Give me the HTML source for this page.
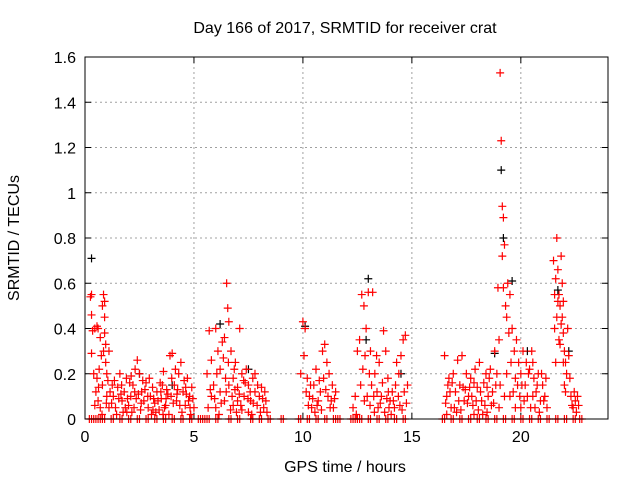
<!DOCTYPE html>
<html><head><meta charset="utf-8"><style>
body{margin:0;background:#fff;}
svg{display:block;font-family:"Liberation Sans",sans-serif;}
</style></head><body>
<svg id="chart" width="640" height="480">
<text x="345" y="33" text-anchor="middle" font-size="16">Day 166 of 2017, SRMTID for receiver crat</text>
<text x="345" y="472" text-anchor="middle" font-size="16">GPS time / hours</text>
<text transform="translate(19,238) rotate(-90)" text-anchor="middle" font-size="16">SRMTID / TECUs</text>
<g id="grid"></g>
<g id="ticks"></g>
<g id="blackUnder"></g>
<g id="red"></g>
<g id="black"></g>
<rect x="85" y="57" width="523" height="362" fill="none" stroke="#000" stroke-width="1"/>
</svg>
<script>
const xTicks=[0,5,10,15,20];
const yTicks=[0,0.2,0.4,0.6,0.8,1,1.2,1.4,1.6];
const yTickLabels=["0","0.2","0.4","0.6","0.8","1","1.2","1.4","1.6"];
const redPoints=[[0.25,0.54],[0.3,0.55],[0.3,0.46],[0.35,0.39],[0.3,0.29],[0.4,0.2],[0.45,0.4],[0.55,0.41],[0.6,0.4],[0.7,0.36],[0.75,0.28],[0.8,0.5],[0.85,0.55],[0.9,0.52],[0.9,0.45],[0.95,0.33],[0.95,0.25],[1.0,0.2],[1.05,0.17],[1.1,0.3],[0.5,0.12],[0.6,0.08],[0.7,0.05],[0.8,0.15],[1.0,0.1],[1.1,0.05],[0.55,0.18],[0.65,0.22],[0.85,0.3],[0.9,0.38],
[1.3,0.1],[1.4,0.05],[1.5,0.14],[1.6,0.2],[1.7,0.08],[1.8,0.12],[1.9,0.18],[2.0,0.06],[2.1,0.1],[2.2,0.15],[2.3,0.22],[2.4,0.26],[2.5,0.2],[2.6,0.12],[2.7,0.08],[2.8,0.16],[2.9,0.05],[3.0,0.1],[3.1,0.14],[3.2,0.07],[3.3,0.12],[3.4,0.04],[3.5,0.09],[3.6,0.21],[3.7,0.06],[3.8,0.11],[3.9,0.28],[4.0,0.29],[4.1,0.15],[4.2,0.08],[4.3,0.2],[4.4,0.25],[4.5,0.12],[4.6,0.06],[4.7,0.18],[4.8,0.1],[4.9,0.14],[5.0,0.05],[1.45,0.02],[1.75,0.03],[2.05,0.16],[2.55,0.04],[2.95,0.18],[3.25,0.03],[3.55,0.15],[3.85,0.02],[4.15,0.22],[4.45,0.03],[4.75,0.08],[2.35,0.09],[3.15,0.09],[4.05,0.07],[1.55,0.09],[2.65,0.17],[3.75,0.13],[4.55,0.17],[1.25,0.15],[1.85,0.05],[2.45,0.11],[3.05,0.02],[3.65,0.05],[4.25,0.13],[4.85,0.02],[2.15,0.03],[3.45,0.16],
[5.6,0.2],[5.7,0.39],[5.8,0.26],[5.9,0.15],[6.0,0.4],[6.1,0.3],[6.2,0.22],[6.3,0.34],[6.4,0.36],[6.5,0.6],[6.55,0.49],[6.6,0.43],[6.7,0.3],[6.8,0.18],[6.9,0.25],[7.0,0.14],[7.1,0.4],[7.2,0.2],[7.3,0.1],[7.4,0.22],[7.5,0.15],[7.6,0.08],[7.7,0.18],[7.8,0.12],[7.9,0.06],[8.0,0.1],[8.1,0.14],[8.2,0.05],[8.3,0.08],[5.8,0.1],[6.0,0.05],[6.2,0.12],[6.4,0.08],[6.6,0.15],[6.8,0.06],[7.0,0.08],[7.2,0.04],[7.5,0.03],[7.8,0.2],[6.35,0.27],[6.75,0.1],[6.45,0.18],[6.95,0.03],[7.35,0.16],[7.65,0.02],[8.05,0.03],[6.15,0.02],
[9.9,0.2],[10.0,0.43],[10.1,0.4],[10.2,0.18],[10.3,0.1],[10.4,0.05],[10.5,0.15],[10.6,0.22],[10.7,0.08],[10.8,0.12],[10.9,0.3],[11.0,0.33],[11.1,0.25],[11.2,0.2],[11.3,0.08],[11.4,0.05],[11.5,0.12],[10.05,0.28],[10.25,0.06],[10.55,0.03],[10.95,0.18],[11.15,0.1],
[12.3,0.05],[12.4,0.1],[12.5,0.3],[12.6,0.35],[12.7,0.55],[12.8,0.5],[12.9,0.4],[13.0,0.56],[13.1,0.3],[13.2,0.56],[13.3,0.2],[13.4,0.12],[13.5,0.25],[13.6,0.1],[13.7,0.39],[13.8,0.3],[13.9,0.18],[14.0,0.08],[14.1,0.12],[14.2,0.05],[14.3,0.25],[14.4,0.2],[14.5,0.28],[14.6,0.35],[14.7,0.37],[14.8,0.15],[12.75,0.22],[12.95,0.1],[13.15,0.15],[13.45,0.05],[13.75,0.03],[14.05,0.02],[14.45,0.06],[13.05,0.2],[12.85,0.28],
[16.5,0.28],[16.6,0.1],[16.7,0.18],[16.8,0.05],[16.9,0.2],[17.0,0.12],[17.1,0.26],[17.2,0.15],[17.3,0.28],[17.4,0.08],[17.5,0.2],[17.6,0.1],[17.7,0.18],[17.8,0.06],[17.9,0.22],[18.0,0.14],[18.1,0.25],[18.2,0.08],[18.3,0.16],[18.4,0.2],[18.5,0.1],[18.6,0.22],[18.7,0.12],[18.8,0.3],[18.9,0.2],[19.0,0.35],[19.05,1.53],[19.1,1.23],[19.15,0.94],[19.2,0.89],[19.15,0.72],[19.25,0.77],[19.2,0.58],[19.3,0.5],[19.35,0.45],[19.4,0.6],[19.45,0.38],[19.5,0.55],[19.6,0.4],[19.7,0.3],[19.8,0.35],[19.9,0.25],[20.0,0.2],[20.1,0.3],[20.2,0.15],[20.3,0.1],[20.4,0.22],[20.5,0.3],[20.6,0.18],[20.7,0.12],[20.8,0.2],[20.9,0.08],[21.0,0.15],[21.1,0.1],[21.2,0.05],[18.95,0.58],[19.0,0.05],[19.5,0.1],[20.0,0.05],[17.05,0.03],[18.05,0.04],[19.85,0.15],[20.45,0.05],[16.65,0.15],[17.45,0.13],[18.25,0.02],[18.65,0.06],[19.65,0.12],[20.25,0.25],[20.85,0.03],
[21.5,0.7],[21.6,0.62],[21.65,0.8],[21.7,0.66],[21.75,0.55],[21.8,0.5],[21.85,0.72],[21.9,0.45],[21.95,0.38],[22.0,0.3],[22.05,0.25],[22.1,0.2],[22.2,0.28],[22.3,0.1],[22.4,0.05],[22.5,0.08],[22.6,0.1],[21.55,0.4],[21.7,0.52],[21.9,0.6],[22.0,0.15],[22.15,0.4],[21.6,0.25],[21.8,0.33]];
const extraRedPoints=[[0.45,0.06],[0.62,0.14],[0.78,0.02],[0.98,0.07],[1.15,0.12],[1.35,0.17],[1.65,0.11],[1.95,0.09],[2.25,0.05],[2.75,0.13],[3.35,0.08],[3.95,0.1],[4.35,0.06],[4.65,0.11],[4.95,0.09],[1.22,0.07],[1.68,0.15],[2.12,0.19],[2.58,0.07],[2.88,0.1],[3.12,0.04],[3.48,0.12],[3.72,0.09],[3.98,0.18],[4.22,0.11],[4.62,0.14],[4.82,0.05],[2.28,0.12],[1.92,0.03],[3.58,0.02],
[5.65,0.05],[5.95,0.09],[6.25,0.07],[6.48,0.12],[6.68,0.04],[6.88,0.13],[7.08,0.11],[7.28,0.17],[7.48,0.09],[7.72,0.07],[7.92,0.15],[8.15,0.09],[8.35,0.03],[6.05,0.2],[6.58,0.25],[7.15,0.06],[7.58,0.12],[8.25,0.12],[6.85,0.22],[5.75,0.13],
[10.15,0.12],[10.35,0.15],[10.45,0.09],[10.65,0.06],[10.85,0.04],[11.05,0.13],[11.25,0.05],[11.45,0.09],[10.75,0.17],[11.35,0.15],
[12.45,0.02],[12.65,0.15],[12.82,0.08],[13.08,0.06],[13.25,0.1],[13.38,0.28],[13.55,0.07],[13.65,0.16],[13.85,0.09],[13.95,0.05],[14.15,0.08],[14.25,0.15],[14.38,0.1],[14.55,0.04],[14.65,0.12],[14.75,0.07],[13.28,0.03],[13.92,0.12],
[16.55,0.07],[16.75,0.12],[16.85,0.16],[16.95,0.05],[17.15,0.08],[17.25,0.04],[17.35,0.14],[17.55,0.07],[17.65,0.14],[17.75,0.1],[17.85,0.16],[17.95,0.08],[18.15,0.12],[18.35,0.06],[18.45,0.14],[18.55,0.18],[18.75,0.07],[18.85,0.15],[19.05,0.15],[19.25,0.1],[19.35,0.2],[19.55,0.25],[19.75,0.18],[19.95,0.1],[20.05,0.15],[20.15,0.08],[20.35,0.2],[20.55,0.1],[20.65,0.05],[20.75,0.15],[20.95,0.2],[21.05,0.08],[21.15,0.18],[19.75,0.05],[20.55,0.25],[18.45,0.03],[17.85,0.02],[16.6,0.02],
[21.55,0.55],[21.65,0.45],[21.75,0.35],[21.85,0.42],[21.95,0.25],[22.05,0.12],[22.25,0.18],[22.35,0.06],[22.45,0.12],[22.55,0.03],[22.65,0.06],[21.95,0.52]];
const zeroTimes=[0.2,0.4,0.6,0.8,1.2,1.6,2.0,2.4,2.8,3.2,3.6,4.0,4.4,4.8,5.2,5.4,5.6,6.0,6.6,7.0,7.6,8.0,8.4,9.0,9.8,10.2,10.6,11.0,11.4,11.6,12.2,12.4,12.6,13.0,13.4,13.8,14.2,14.6,16.4,16.8,17.2,17.6,18.0,18.4,18.8,19.2,19.6,20.0,20.4,20.8,21.2,21.6,22.0,22.4,22.7];
const blackPointsTop=[[0.3,0.71],[19.1,1.1],[19.2,0.8],[13.0,0.62],[21.7,0.57]];
const blackPointsUnder=[[6.2,0.42],[10.1,0.41],[19.6,0.61],[18.8,0.29],[14.5,0.2],[2.5,0.2],[4.0,0.15],[7.5,0.22],[12.9,0.35],[20.3,0.3],[22.2,0.3]];

const X0=85,X1=608,Y0=419,Y1=57,XMAX=24,YMAX=1.6;
function xs(v){return X0+(X1-X0)*v/XMAX;}
function ys(v){return Y0-(Y0-Y1)*v/YMAX;}
const NS="http://www.w3.org/2000/svg";
function mk(tag,attrs,parent){const e=document.createElementNS(NS,tag);for(const k in attrs)e.setAttribute(k,attrs[k]);parent.appendChild(e);return e;}
const grid=document.getElementById('grid'),ticks=document.getElementById('ticks');
xTicks.forEach(t=>{const x=xs(t);
 if(t>0){const g=mk('line',{x1:x,x2:x,y1:Y0,y2:Y1,stroke:'#a0a0a0','stroke-dasharray':'2,3'},grid);
 
 }
 mk('line',{x1:x,x2:x,y1:Y0,y2:Y0-6,stroke:'#000'},ticks);
 mk('line',{x1:x,x2:x,y1:Y1,y2:Y1+6,stroke:'#000'},ticks);
 const l=mk('text',{x:x,y:Y0+23,'text-anchor':'middle','font-size':16},ticks);l.textContent=t;
 
 
});
yTicks.forEach((t,i)=>{const y=ys(t);
 if(t>0&&t<YMAX){const g=mk('line',{x1:X0,x2:X1,y1:y,y2:y,stroke:'#a0a0a0','stroke-dasharray':'2,3'},grid);
 
 }
 mk('line',{x1:X0,x2:X0+6,y1:y,y2:y,stroke:'#000'},ticks);
 mk('line',{x1:X1,x2:X1-6,y1:y,y2:y,stroke:'#000'},ticks);
 const l=mk('text',{x:X0-9,y:y+6,'text-anchor':'end','font-size':16},ticks);l.textContent=yTickLabels[i];
 
 
});
function plus(parent,t,v,col){const x=xs(t),y=ys(v);
 const p=mk('path',{d:`M${x-4},${y}H${x+4}M${x},${y-4}V${y+4}`,stroke:col,'stroke-width':1.2,fill:'none'},parent);
 
 
}
const red=document.getElementById('red'),black=document.getElementById('black'),blackUnder=document.getElementById('blackUnder');
blackPointsUnder.forEach(p=>plus(blackUnder,p[0],p[1],'#000'));
zeroTimes.forEach(t=>{plus(red,t,0,'#f00');plus(red,t+0.1,0,'#f00');});
redPoints.forEach(p=>plus(red,p[0],p[1],'#f00'));
extraRedPoints.forEach(p=>plus(red,p[0],p[1],'#f00'));
blackPointsTop.forEach(p=>plus(black,p[0],p[1],'#000'));
</script>
</body></html>
